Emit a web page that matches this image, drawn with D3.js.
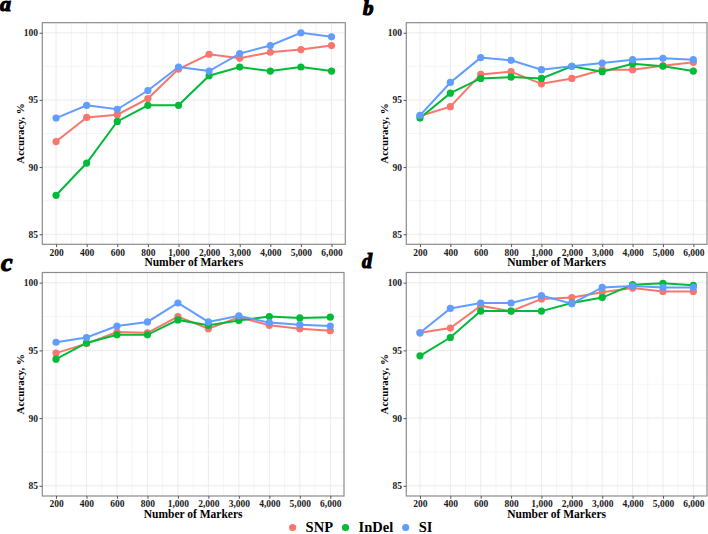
<!DOCTYPE html>
<html lang="en">
<head>
<meta charset="utf-8">
<title>Accuracy vs number of markers</title>
<script src="https://cdn.jsdelivr.net/npm/d3@7"></script>
<style>
  body { margin: 0; background: #fff; }
  svg { display: block; font-family: "Liberation Serif", "Times New Roman", serif; }
  .grid line { stroke: #ebebeb; }
  .axis text { font-weight: bold; font-size: 9.5px; fill: #1a1a1a; font-family: "Liberation Serif", serif; }
  .axis line { stroke: #555; }
  .axis .domain { display: none; }
  .ttl { font-weight: bold; fill: #000; }
  .letter { font-weight: bold; font-style: italic; fill: #000; stroke: #000; stroke-width: 1.2px; }
</style>
</head>
<body>
<script>

// categories on the x axis
var markers = ["200", "400", "600", "800", "1,000", "2,000", "3,000", "4,000", "5,000", "6,000"];
var seriesNames = ["SNP", "InDel", "SI"];
var seriesColors = ["#F8766D", "#00BA38", "#619CFF"];
var yTicks = [85, 90, 95, 100];
var yMinor = [87.5, 92.5, 97.5];

// panel a
var snpA   = [91.9, 93.7, 93.9, 95.1, 97.3, 98.4, 98.1, 98.55, 98.75, 99.05];
var indelA = [87.9, 90.3, 93.4, 94.6, 94.6, 96.8, 97.45, 97.15, 97.45, 97.15];
var siA    = [93.65, 94.6, 94.3, 95.7, 97.45, 97.15, 98.45, 99.05, 100, 99.7];
// panel b
var snpB   = [93.8, 94.5, 96.9, 97.1, 96.2, 96.6, 97.25, 97.25, 97.55, 97.8];
var indelB = [93.65, 95.5, 96.6, 96.7, 96.6, 97.5, 97.1, 97.7, 97.5, 97.15];
var siB    = [93.85, 96.3, 98.15, 97.95, 97.25, 97.5, 97.75, 98.0, 98.1, 98.0];
// panel c
var snpC   = [94.8, 95.5, 96.35, 96.3, 97.5, 96.6, 97.45, 96.85, 96.6, 96.45];
var indelC = [94.35, 95.55, 96.15, 96.15, 97.25, 96.85, 97.2, 97.5, 97.4, 97.45];
var siC    = [95.6, 95.95, 96.8, 97.1, 98.5, 97.1, 97.55, 97.05, 96.9, 96.8];
// panel d
var snpD   = [96.3, 96.65, 98.3, 97.9, 98.8, 98.9, 99.3, 99.6, 99.35, 99.35];
var indelD = [94.6, 95.95, 97.9, 97.9, 97.9, 98.5, 98.9, 99.85, 99.95, 99.8];
var siD    = [96.3, 98.1, 98.5, 98.5, 99.05, 98.45, 99.65, 99.75, 99.65, 99.65];

var w = 708, h = 534;

var panels = [
    { letter: "a", size: 22, lx: 0,   ly: 11,  box: [42.3, 22.7, 345.3, 244.3],  data: [snpA, indelA, siA] },
    { letter: "b", size: 21, lx: 363, ly: 15,  box: [406.3, 22.7, 707, 244.3],   data: [snpB, indelB, siB] },
    { letter: "c", size: 26, lx: 1,   ly: 271, box: [42.3, 272.5, 344, 496],     data: [snpC, indelC, siC] },
    { letter: "d", size: 20, lx: 362, ly: 268, box: [406.3, 272.5, 707, 496],    data: [snpD, indelD, siD] }
];

var svg = d3.select("body").append("svg")
    .attr("width", w)
    .attr("height", h);

panels.forEach(function (p) {
    var x0 = p.box[0], y0 = p.box[1], x1 = p.box[2], y1 = p.box[3];

    var x = d3.scalePoint().domain(markers).range([x0, x1]).padding(0.45);
    var y = d3.scaleLinear().domain([84.25, 100.75]).range([y1, y0]);
    var step = x.step();

    var g = svg.append("g");

    // grid
    var grid = g.append("g").attr("class", "grid");
    grid.selectAll(".ym").data(yMinor).enter().append("line")
        .attr("x1", x0).attr("x2", x1)
        .attr("y1", function (d) { return y(d); }).attr("y2", function (d) { return y(d); })
        .style("stroke-width", 0.5);
    grid.selectAll(".xm").data(markers.slice(1)).enter().append("line")
        .attr("x1", function (d) { return x(d) - step / 2; }).attr("x2", function (d) { return x(d) - step / 2; })
        .attr("y1", y0).attr("y2", y1)
        .style("stroke-width", 0.5);
    grid.selectAll(".yM").data(yTicks).enter().append("line")
        .attr("x1", x0).attr("x2", x1)
        .attr("y1", function (d) { return y(d); }).attr("y2", function (d) { return y(d); })
        .style("stroke-width", 1);
    grid.selectAll(".xM").data(markers).enter().append("line")
        .attr("x1", function (d) { return x(d); }).attr("x2", function (d) { return x(d); })
        .attr("y1", y0).attr("y2", y1)
        .style("stroke-width", 1);

    // lines then points
    var line = d3.line()
        .x(function (d, i) { return x(markers[i]); })
        .y(function (d) { return y(d); });

    p.data.forEach(function (vals, k) {
        g.append("path")
            .datum(vals)
            .attr("d", line)
            .attr("fill", "none")
            .attr("stroke", seriesColors[k])
            .attr("stroke-width", 2);
    });
    p.data.forEach(function (vals, k) {
        g.selectAll(".pt" + k).data(vals).enter().append("circle")
            .attr("cx", function (d, i) { return x(markers[i]); })
            .attr("cy", function (d) { return y(d); })
            .attr("r", 3.6)
            .attr("fill", seriesColors[k]);
    });

    // border
    g.append("rect")
        .attr("x", x0).attr("y", y0)
        .attr("width", x1 - x0).attr("height", y1 - y0)
        .attr("fill", "none")
        .attr("stroke", "#8c8c8c")
        .attr("stroke-width", 1.2);

    // axes
    g.append("g").attr("class", "axis")
        .attr("transform", "translate(0," + y1 + ")")
        .call(d3.axisBottom(x).tickSize(2.75).tickPadding(2));
    g.append("g").attr("class", "axis")
        .attr("transform", "translate(" + x0 + ",0)")
        .call(d3.axisLeft(y).tickValues(yTicks).tickSize(2.75).tickPadding(1.5));

    // titles
    g.append("text").attr("class", "ttl")
        .attr("x", (x0 + x1) / 2).attr("y", y1 + 22)
        .attr("text-anchor", "middle")
        .style("font-size", "11.5px")
        .text("Number of Markers");
    g.append("text").attr("class", "ttl")
        .attr("transform", "translate(" + (x0 - 18.5) + "," + ((y0 + y1) / 2) + ")rotate(-90)")
        .attr("text-anchor", "middle")
        .style("font-size", "11px")
        .text("Accuracy, %");

    svg.append("text").attr("class", "letter")
        .attr("x", p.lx).attr("y", p.ly)
        .style("font-size", p.size + "px")
        .text(p.letter);
});

// legend
var legend = svg.append("g").attr("class", "legend");
var items = legend.selectAll("g").data(seriesNames).enter().append("g");
items.append("circle").attr("r", 3.6).attr("cy", 0)
    .attr("fill", function (d, i) { return seriesColors[i]; });
items.append("text").attr("class", "ttl")
    .attr("x", 13).attr("y", 4.5)
    .style("font-size", "14.5px")
    .text(function (d) { return d; });

var cursor = 0;
items.each(function () {
    var t = d3.select(this).select("text").node().getComputedTextLength();
    d3.select(this).attr("transform", "translate(" + cursor + ",0)");
    cursor += 13 + t + 12.5;
});
var total = cursor - 12.5;
legend.attr("transform", "translate(" + (362.5 - total / 2) + ",527.5)");

</script>
</body>
</html>
